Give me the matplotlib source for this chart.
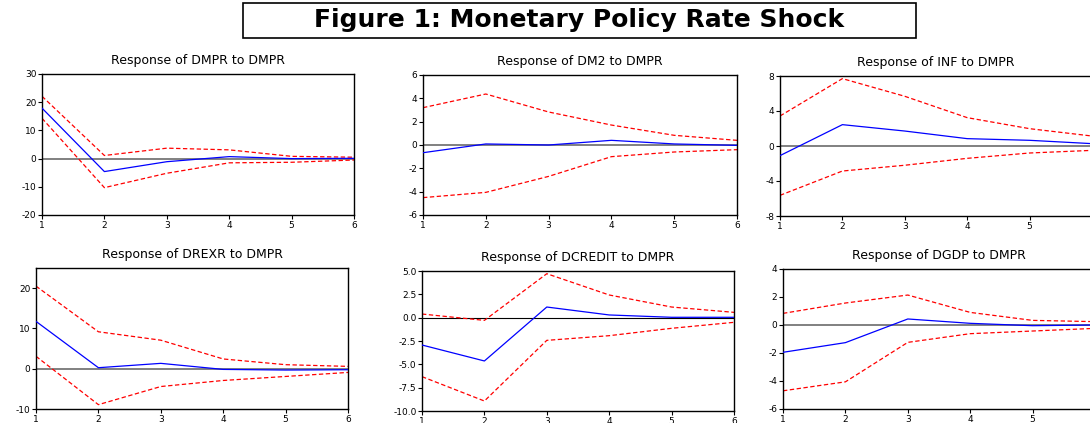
import matplotlib
matplotlib.use("Agg")
import matplotlib.pyplot as plt
from matplotlib.patches import Rectangle

# impulse responses (periods 1..6): response, upper and lower bands
periods = [1, 2, 3, 4, 5, 6]

dmpr_resp = [17.9, -4.6, -1.1, 0.7, 0.0, 0.1]
dmpr_up = [22.1, 1.1, 3.7, 3.1, 0.8, 0.5]
dmpr_lo = [14.3, -10.3, -5.2, -1.5, -1.3, -0.5]

dm2_resp = [-0.66, 0.09, 0.0, 0.4, 0.09, -0.03]
dm2_up = [3.2, 4.37, 2.83, 1.71, 0.83, 0.4]
dm2_lo = [-4.51, -4.06, -2.69, -1.0, -0.6, -0.4]

inf_resp = [-1.1, 2.44, 1.71, 0.84, 0.65, 0.27]
inf_up = [3.43, 7.7, 5.68, 3.24, 1.98, 1.14]
inf_lo = [-5.64, -2.86, -2.2, -1.41, -0.8, -0.5]

drexr_resp = [11.75, 0.25, 1.33, -0.17, -0.33, -0.25]
drexr_up = [20.5, 9.17, 7.08, 2.42, 1.0, 0.58]
drexr_lo = [3.08, -8.92, -4.42, -2.92, -1.92, -0.92]

dcredit_resp = [-2.93, -4.64, 1.14, 0.29, 0.04, 0.04]
dcredit_up = [0.39, -0.29, 4.71, 2.43, 1.14, 0.57]
dcredit_lo = [-6.32, -8.93, -2.43, -1.93, -1.14, -0.5]

dgdp_resp = [-1.95, -1.26, 0.43, 0.12, -0.05, 0.0]
dgdp_up = [0.83, 1.57, 2.14, 0.9, 0.33, 0.24]
dgdp_lo = [-4.7, -4.06, -1.24, -0.62, -0.43, -0.24]

W, H = 1090, 423
fig = plt.figure(figsize=(W / 100, H / 100), dpi=100)
plt.rcParams['font.family'] = ['DejaVu Sans']

def px_axes(left, top, right, bottom):
    return fig.add_axes([left / W, 1 - bottom / H, (right - left) / W, (bottom - top) / H])

panels = [
    ("Response of DMPR to DMPR", dmpr_resp, dmpr_up, dmpr_lo, (-20, 30), [-20, -10, 0, 10, 20, 30], "%d", (42, 74, 354, 215), '#808080'),
    ("Response of DM2 to DMPR", dm2_resp, dm2_up, dm2_lo, (-6, 6), [-6, -4, -2, 0, 2, 4, 6], "%d", (423, 75, 737, 215), '#808080'),
    ("Response of INF to DMPR", inf_resp, inf_up, inf_lo, (-8, 8), [-8, -4, 0, 4, 8], "%d", (780, 76, 1092, 216), '#808080'),
    ("Response of DREXR to DMPR", drexr_resp, drexr_up, drexr_lo, (-10, 25), [-10, 0, 10, 20], "%d", (36, 268, 348, 409), '#808080'),
    ("Response of DCREDIT to DMPR", dcredit_resp, dcredit_up, dcredit_lo, (-10, 5), [-10, -7.5, -5, -2.5, 0, 2.5, 5], "%.1f", (422, 271, 734, 411), 'black'),
    ("Response of DGDP to DMPR", dgdp_resp, dgdp_up, dgdp_lo, (-6, 4), [-6, -4, -2, 0, 2, 4], "%d", (783, 269, 1095, 409), '#808080'),
]

for title, resp, up, lo, ylim, yticks, fmt, box, zc in panels:
    ax = px_axes(*box)
    ax.axhline(0, color=zc, lw=1.4 if zc != 'black' else 0.8, zorder=1)
    ax.plot(periods, up, color='red', lw=0.9, ls=(0, (3.5, 2)), zorder=2)
    ax.plot(periods, lo, color='red', lw=0.9, ls=(0, (3.5, 2)), zorder=2)
    ax.plot(periods, resp, color='blue', lw=0.9, zorder=3)
    ax.set_xlim(1, 6)
    ax.set_ylim(*ylim)
    ax.set_xticks(periods)
    ax.set_yticks(yticks)
    ax.set_yticklabels([fmt % t for t in yticks])
    ax.tick_params(direction='out', length=3, width=0.8, labelsize=6.5, pad=1)
    for s in ax.spines.values():
        s.set_linewidth(1.0)
    ax.set_title(title, fontsize=9, pad=7)

# boxed main title
fig.patches.append(Rectangle((243 / W, 1 - 38 / H), (916 - 243) / W, 35 / H,
                             transform=fig.transFigure, fill=False, ec='black', lw=1.2))
fig.text((243 + 916) / 2 / W, 1 - 20.5 / H, "Figure 1: Monetary Policy Rate Shock",
         ha='center', va='center', fontsize=18, fontweight='bold')

fig.savefig("out.png", dpi=100)
